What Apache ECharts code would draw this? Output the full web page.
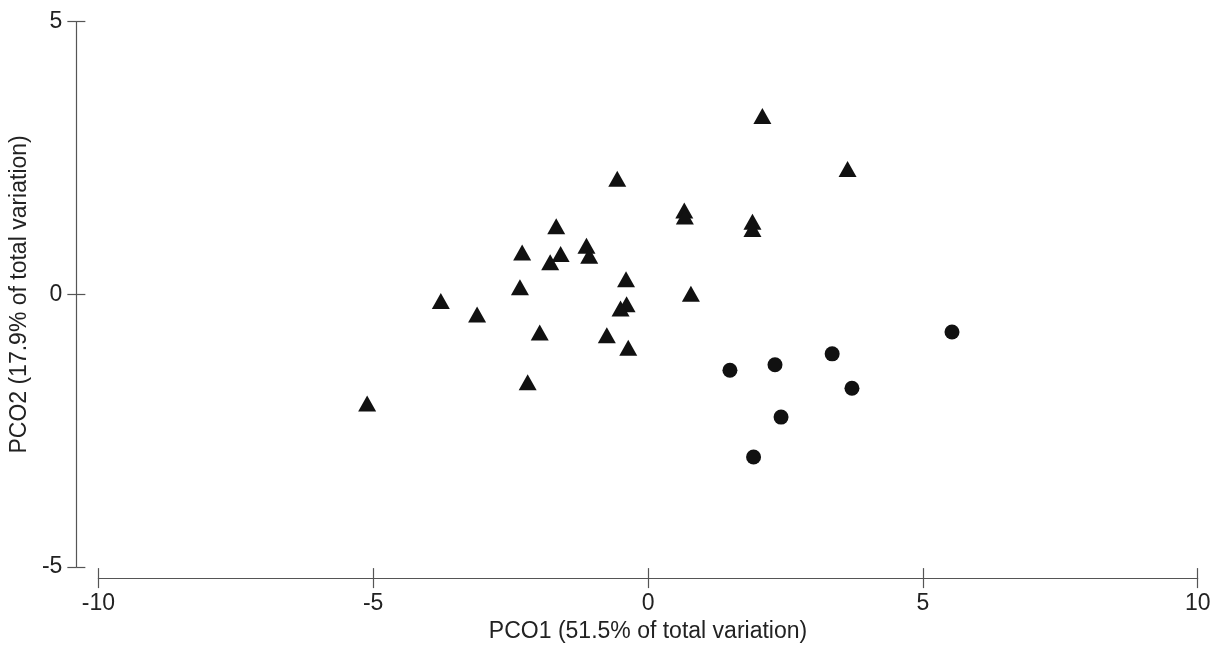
<!DOCTYPE html>
<html>
<head>
<meta charset="utf-8">
<script src="https://cdn.jsdelivr.net/npm/echarts@6/dist/echarts.min.js"></script>
<style>html,body{margin:0;padding:0;background:#fff;}#c{width:1218px;height:648px;}</style>
</head>
<body>
<div id="c"></div>
<script>
var xTicks = [-10, -5, 0, 5, 10];
var yTicks = [-5, 0, 5];
var xName = 'PCO1 (51.5% of total variation)';
var yName = 'PCO2 (17.9% of total variation)';

var triangles = [
  [2.08, 3.27], [3.63, 2.30], [-0.56, 2.12], [0.66, 1.54], [0.67, 1.43],
  [1.90, 1.33], [1.90, 1.20], [-1.67, 1.25], [-2.29, 0.77], [-1.59, 0.74],
  [-1.78, 0.59], [-1.12, 0.89], [-1.07, 0.71], [-0.40, 0.28], [-2.33, 0.13],
  [-3.77, -0.12], [-3.11, -0.37], [-0.39, -0.18], [-0.50, -0.26], [0.78, 0.01],
  [-1.97, -0.70], [-0.75, -0.75], [-0.36, -0.98], [-2.19, -1.61], [-5.11, -2.00]
];
var circles = [
  [1.49, -1.39], [2.31, -1.29], [3.35, -1.09], [5.53, -0.69],
  [3.71, -1.72], [2.42, -2.25], [1.92, -2.98]
];

var font = 'Liberation Sans, Arial, sans-serif';
var txt = '#222';
var lineCol = '#555';
var fs = 23;

function xa(main) {
  return {
    type: 'value', min: xTicks[0], max: xTicks[xTicks.length - 1], interval: 5,
    position: 'bottom', offset: 11,
    splitLine: { show: false },
    axisLine: { show: main, onZero: false, lineStyle: { color: lineCol, width: 1.2 } },
    axisTick: { show: true, inside: !main, length: 10, lineStyle: { color: lineCol, width: 1.2 } },
    axisLabel: { show: main, color: txt, fontSize: fs, fontFamily: font, margin: 14 },
    name: main ? xName : '', nameLocation: 'middle', nameGap: 40,
    nameTextStyle: { color: txt, fontSize: fs, fontFamily: font }
  };
}
function ya(main) {
  return {
    type: 'value', min: yTicks[0], max: yTicks[yTicks.length - 1], interval: 5,
    position: 'left', offset: 22,
    splitLine: { show: false },
    axisLine: { show: main, onZero: false, lineStyle: { color: lineCol, width: 1.2 } },
    axisTick: { show: true, inside: !main, length: 9, lineStyle: { color: lineCol, width: 1.2 } },
    axisLabel: { show: main, color: txt, fontSize: fs, fontFamily: font, margin: 14 },
    name: main ? yName : '', nameLocation: 'middle', nameGap: 36,
    nameTextStyle: { color: txt, fontSize: fs, fontFamily: font }
  };
}

var chart = echarts.init(document.getElementById('c'));
chart.setOption({
  animation: false,
  backgroundColor: '#fff',
  grid: { left: 98.3, width: 1099.4, top: 21.7, height: 549.3 },
  xAxis: [xa(true), xa(false)],
  yAxis: [ya(true), ya(false)],
  series: [
    { type: 'scatter', data: triangles, symbol: 'triangle', symbolSize: [18, 16],
      itemStyle: { color: '#111', opacity: 1 } },
    { type: 'scatter', data: circles, symbol: 'circle', symbolSize: 15,
      itemStyle: { color: '#111', opacity: 1 } }
  ]
});
</script>
</body>
</html>
